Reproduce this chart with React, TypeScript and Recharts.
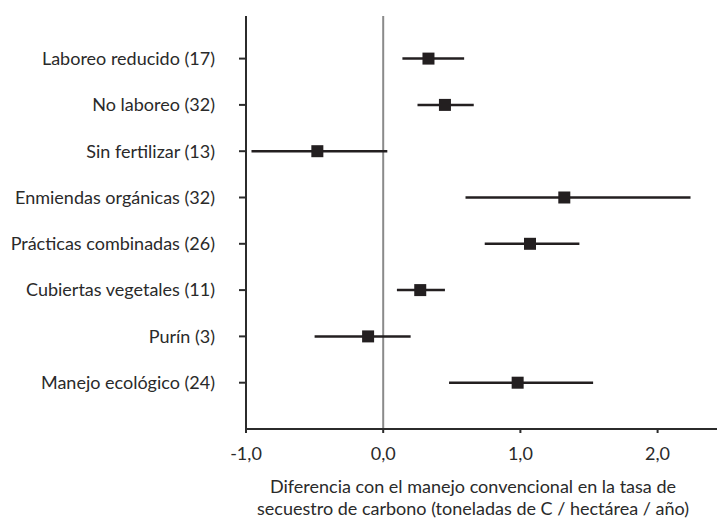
import { ScatterChart, Scatter, XAxis, YAxis, ErrorBar, ReferenceLine } from 'recharts';

const labels = [
  'Laboreo reducido (17)',
  'No laboreo (32)',
  'Sin fertilizar (13)',
  'Enmiendas orgánicas (32)',
  'Prácticas combinadas (26)',
  'Cubiertas vegetales (11)',
  'Purín (3)',
  'Manejo ecológico (24)',
];
const means = [0.33, 0.45, -0.48, 1.32, 1.07, 0.27, -0.11, 0.98];
const lows = [0.14, 0.25, -0.96, 0.6, 0.74, 0.1, -0.5, 0.48];
const highs = [0.59, 0.66, 0.03, 2.24, 1.43, 0.45, 0.2, 1.53];
const xTicks = [-1, 0, 1, 2];

const data = labels.map((name, i) => ({
  name,
  pos: labels.length - i,
  mean: means[i],
  err: [means[i] - lows[i], highs[i] - means[i]],
}));

const FONT = 'Lato, "Open Sans", sans-serif';
const INK = '#231f20';
const TEXT = '#2a2a2a';

const Square = (props: any) => {
  const { cx, cy } = props;
  return <rect x={cx - 6} y={cy - 6} width={12} height={12} fill={INK} />;
};

export default function App() {
  return (
    <div style={{ position: 'absolute', left: 0, top: 0, width: 717, height: 518, background: '#fff', fontFamily: FONT }}>
      <ScatterChart width={717} height={518} margin={{ top: 16, right: 0, bottom: 0, left: 0 }}>
        <XAxis
          type="number"
          dataKey="mean"
          domain={[-1, 2.433]}
          ticks={xTicks}
          interval={0}
          allowDataOverflow
          tickFormatter={(v: number) => v.toFixed(1).replace('.', ',')}
          tickSize={4}
          tickMargin={14}
          height={89}
          stroke="#2b2b2b"
          strokeWidth={2}
          tick={{ fill: TEXT, fontSize: 18, fontFamily: FONT }}
        />
        <YAxis
          type="number"
          dataKey="pos"
          domain={[0, 8.92]}
          ticks={[1, 2, 3, 4, 5, 6, 7, 8]}
          interval={0}
          allowDataOverflow
          tickFormatter={(v: number) => labels[labels.length - v] ?? ''}
          width={246}
          tickSize={7}
          tickMargin={24}
          stroke="#2b2b2b"
          strokeWidth={2}
          tick={{ fill: TEXT, fontSize: 18, fontFamily: FONT }}
        />
        <ReferenceLine x={0} stroke="#8a8a8a" strokeWidth={2} />
        <Scatter data={data} shape={Square} isAnimationActive={false}>
          <ErrorBar dataKey="err" direction="x" width={0} stroke={INK} strokeWidth={2.5} isAnimationActive={false} />
        </Scatter>
      </ScatterChart>
      <div
        style={{
          position: 'absolute',
          left: 223,
          width: 500,
          top: 476,
          textAlign: 'center',
          fontSize: 18,
          lineHeight: '21.5px',
          color: TEXT,
        }}
      >
        Diferencia con el manejo convencional en la tasa de
        <br />
        secuestro de carbono (toneladas de C / hectárea / año)
      </div>
    </div>
  );
}
